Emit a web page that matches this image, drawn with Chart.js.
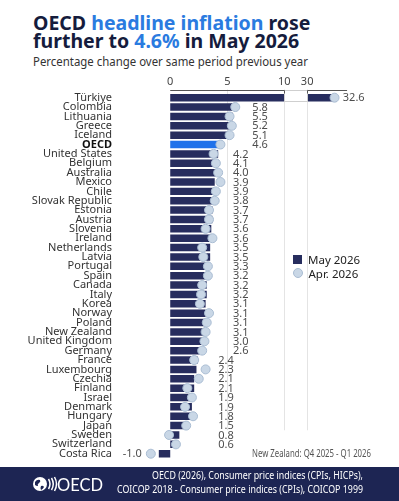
<!DOCTYPE html>
<html>
<head>
<meta charset="utf-8">
<script src="https://cdn.jsdelivr.net/npm/chart.js@4/dist/chart.umd.min.js"></script>
<style>
    html, body { margin: 0; padding: 0; background: #fff; }
    #wrap { position: relative; width: 399px; height: 501px; overflow: hidden; font-family: "Noto Sans", "Open Sans", sans-serif; }
    #title { position: absolute; left: 33px; top: 14px; font-weight: 700; font-size: 19.5px; line-height: 18px; color: #151c3d; white-space: nowrap; }
    #title span { color: #2a7be0; }
    #sub { position: absolute; left: 33px; top: 54px; }
    #chartBox { position: absolute; left: 0; top: 0; width: 399px; height: 467px; }
    #legend { position: absolute; left: 293px; top: 253px; font-size: 11.5px; color: #222; line-height: 13.5px; }
    #legend div { display: flex; align-items: center; }
    #legend i { display: inline-block; width: 9px; height: 9px; margin-right: 6px; }
    #note { position: absolute; left: 252px; top: 446px; }
    #footer { position: absolute; left: 0; top: 467px; width: 399px; height: 34px; background: #1d2553; }
    #logo { position: absolute; left: 32px; top: 9px; }
    #src { position: absolute; left: 0; top: 0; }
</style>
</head>
<body>
<div id="wrap">
    <div id="title">OECD <span>headline inflation</span> rose<br>further to <span>4.6%</span> in May 2026</div>
    <svg id="sub" width="290" height="16">
        <text x="0" y="12" textLength="275" lengthAdjust="spacingAndGlyphs" fill="#333" font-family="Noto Sans, Open Sans, sans-serif" font-size="12.8">Percentage change over same period previous year</text>
    </svg>
    <div id="chartBox"><canvas id="chart"></canvas></div>
    <div id="legend">
        <div><i style="background:#272d5e"></i>May 2026</div>
        <div><i style="background:#c9d7e6;border:1px solid #a9bcd2;border-radius:50%;width:8px;height:8px;margin-left:-0.5px"></i>Apr. 2026</div>
    </div>
    <svg id="note" width="130" height="14">
        <text x="0" y="10.5" textLength="119" lengthAdjust="spacingAndGlyphs" fill="#555" font-family="Noto Sans, sans-serif" font-size="10">New Zealand: Q4 2025 - Q1 2026</text>
    </svg>
    <div id="footer">
        <svg id="logo" width="72" height="18" viewBox="0 0 72 18">
            <circle cx="8" cy="8" r="7" fill="#fff"/>
            <path d="M3 6 q2 -3 5 -2 q1 2 -1 3 q-2 1 -1 3 q-2 0 -3 -1 z M9 10 q2 -1 3 1 q-1 2 -3 3 q-1 -2 0 -4 z" fill="#1d2553"/>
            <path d="M16.5 3 q3 5 0 10 M19.5 2 q3.5 6 0 12 M22.5 1 q4 7 0 14" stroke="#fff" stroke-width="1.5" fill="none"/>
            <text x="25" y="14.5" fill="#fff" font-family="Lato, sans-serif" font-size="16.5">OECD</text>
        </svg>
        <svg id="src" width="399" height="34">
            <text x="363" y="11.5" text-anchor="end" textLength="211" lengthAdjust="spacingAndGlyphs" fill="#fff" font-family="Noto Sans, sans-serif" font-size="10">OECD (2026), Consumer price indices (CPIs, HICPs),</text>
            <text x="363" y="25.5" text-anchor="end" textLength="246" lengthAdjust="spacingAndGlyphs" fill="#fff" font-family="Noto Sans, sans-serif" font-size="10">COICOP 2018 - Consumer price indices (CPIs), COICOP 1999</text>
        </svg>
    </div>
</div>
<script>
const countries = ["Türkiye", "Colombia", "Lithuania", "Greece", "Iceland", "OECD", "United States", "Belgium",
    "Australia", "Mexico", "Chile", "Slovak Republic", "Estonia", "Austria", "Slovenia", "Ireland", "Netherlands",
    "Latvia", "Portugal", "Spain", "Canada", "Italy", "Korea", "Norway", "Poland", "New Zealand", "United Kingdom",
    "Germany", "France", "Luxembourg", "Czechia", "Finland", "Israel", "Denmark", "Hungary", "Japan", "Sweden",
    "Switzerland", "Costa Rica"];
const may2026 = [32.6, 5.8, 5.5, 5.2, 5.1, 4.6, 4.2, 4.1, 4.0, 3.9, 3.9, 3.8, 3.7, 3.7, 3.6, 3.6, 3.5, 3.5, 3.3,
    3.2, 3.2, 3.2, 3.1, 3.1, 3.1, 3.1, 3.0, 2.6, 2.4, 2.3, 2.1, 2.1, 1.9, 1.9, 1.8, 1.5, 0.8, 0.6, -1.0];
const apr2026 = [32.4, 5.7, 5.2, 5.4, 5.2, 4.4, 3.8, 4.0, 4.2, 4.4, 4.0, 3.9, 3.4, 3.4, 3.1, 3.7, 2.8, 2.9, 3.3,
    3.3, 2.8, 2.7, 2.6, 3.4, 3.2, 3.1, 3.0, 2.8, 2.1, 3.1, 2.5, 1.5, 1.9, 1.3, 2.0, 1.4, -0.1, 0.5, -1.7];
const tickValues = [0, 5, 10, 30];
const gridValues = [5, 10, 30];
const highlight = "OECD";
const gridEndRow = "Japan";

// broken axis: 10..30 squeezed into a small gap
const breakFrom = 10, breakTo = 30, breakGap = 2, axisEnd = 33.5;
function toAxis(v) {
    return v >= breakTo ? v - breakTo + breakFrom + breakGap : v;
}

// value labels sit in stepped columns (axis units)
const labelColumns = [{ from: 4.5, at: 7.2 }, { from: 2.5, at: 5.5 }, { from: 0, at: 4.2 }];

const NAVY = "#272d5e";
const BLUE = "#2072ea";

const extras = {
    id: "extras",
    beforeDatasetsDraw(chart) {
        const { ctx, chartArea, scales: { x, y } } = chart;
        const band = y.getPixelForValue(1) - y.getPixelForValue(0);
        const yEnd = y.getPixelForValue(countries.indexOf(gridEndRow)) + band / 2;
        const yAxis = chartArea.top - 3.5;
        ctx.save();
        ctx.strokeStyle = "#e4e4e4";
        ctx.lineWidth = 1;
        gridValues.forEach(v => {
            const px = Math.round(x.getPixelForValue(toAxis(v))) + 0.5;
            ctx.beginPath();
            ctx.moveTo(px, yAxis);
            ctx.lineTo(px, yEnd);
            ctx.stroke();
        });
        ctx.restore();
    },
    afterDatasetsDraw(chart) {
        const { ctx, chartArea, scales: { x, y } } = chart;
        const bars = chart.getDatasetMeta(0).data;
        const yAxis = Math.round(chartArea.top - 3.5) + 0.5;
        const xb0 = Math.round(x.getPixelForValue(toAxis(breakFrom))) + 0.5;
        const xb1 = Math.round(x.getPixelForValue(toAxis(breakTo))) + 0.5;
        ctx.save();
        // break box over the first bar
        const b = bars[0];
        const bBottom = Math.round(b.y + b.height / 2) + 0.5;
        ctx.fillStyle = "#fff";
        ctx.fillRect(xb0, yAxis, xb1 - xb0, bBottom - yAxis);
        ctx.strokeStyle = "#cfcfcf";
        ctx.strokeRect(xb0, yAxis, xb1 - xb0, bBottom - yAxis);
        // top axis line
        ctx.strokeStyle = "#555";
        ctx.beginPath();
        ctx.moveTo(x.getPixelForValue(0), yAxis);
        ctx.lineTo(xb0, yAxis);
        ctx.lineTo(xb0, yAxis + 3);
        ctx.moveTo(xb1, yAxis + 3);
        ctx.lineTo(xb1, yAxis);
        ctx.lineTo(x.getPixelForValue(toAxis(axisEnd)), yAxis);
        ctx.stroke();
        // value labels
        ctx.font = '11px "Noto Sans", "Open Sans", sans-serif';
        ctx.fillStyle = "#4d4d4d";
        ctx.textBaseline = "middle";
        may2026.forEach((v, i) => {
            const yy = bars[i].y;
            let px;
            if (v > breakFrom) {
                ctx.textAlign = "left";
                px = x.getPixelForValue(toAxis(Math.max(v, apr2026[i]))) + 6;
            } else if (v < 0) {
                ctx.textAlign = "right";
                px = x.getPixelForValue(Math.min(v, apr2026[i])) - 9;
            } else {
                ctx.textAlign = "left";
                px = x.getPixelForValue(labelColumns.find(c => v >= c.from).at);
            }
            ctx.fillText(v.toFixed(1), px, yy + 0.5);
        });
        ctx.restore();
    }
};

new Chart(document.getElementById("chart"), {
    type: "bar",
    data: {
        labels: countries,
        datasets: [
            {
                label: "May 2026",
                data: may2026.map(toAxis),
                backgroundColor: countries.map(c => c === highlight ? BLUE : NAVY),
                barPercentage: 0.8,
                categoryPercentage: 1,
                order: 1
            },
            {
                label: "Apr. 2026",
                type: "line",
                data: apr2026.map(toAxis),
                showLine: false,
                pointRadius: 4.5,
                pointBackgroundColor: "#c9d7e6",
                pointBorderColor: "#aabdd3",
                pointBorderWidth: 1,
                clip: false,
                order: 0
            }
        ]
    },
    plugins: [extras],
    options: {
        indexAxis: "y",
        responsive: true,
        maintainAspectRatio: false,
        animation: false,
        devicePixelRatio: 1,
        layout: { padding: { top: 0, left: 0, right: 12, bottom: 8.6 } },
        plugins: { legend: { display: false }, tooltip: { enabled: false } },
        scales: {
            x: {
                position: "top",
                min: -3,
                max: 19,
                grid: { display: false, drawTicks: false },
                border: { display: false },
                afterFit: s => { s.height = 93; },
                afterBuildTicks: s => { s.ticks = tickValues.map(v => ({ value: toAxis(v) })); },
                ticks: {
                    padding: 4.4,
                    color: "#444",
                    font: { family: '"Noto Sans", "Open Sans", sans-serif', size: 11 },
                    callback: (val, i) => String(tickValues[i])
                }
            },
            y: {
                grid: { display: false, drawTicks: false },
                border: { display: false },
                // fixed width; the big label padding must not eat the plot height
                afterFit: s => { s.width = 136; s.paddingTop = 0; s.paddingBottom = 0; },
                ticks: {
                    autoSkip: false,
                    padding: 24,
                    color: ctx => ctx.tick && ctx.tick.label === highlight ? "#111" : "#333",
                    font: ctx => ({
                        family: '"Noto Sans", "Open Sans", sans-serif',
                        size: 11,
                        weight: ctx.tick && ctx.tick.label === highlight ? "bold" : "normal"
                    })
                }
            }
        }
    }
});
</script>
</body>
</html>
